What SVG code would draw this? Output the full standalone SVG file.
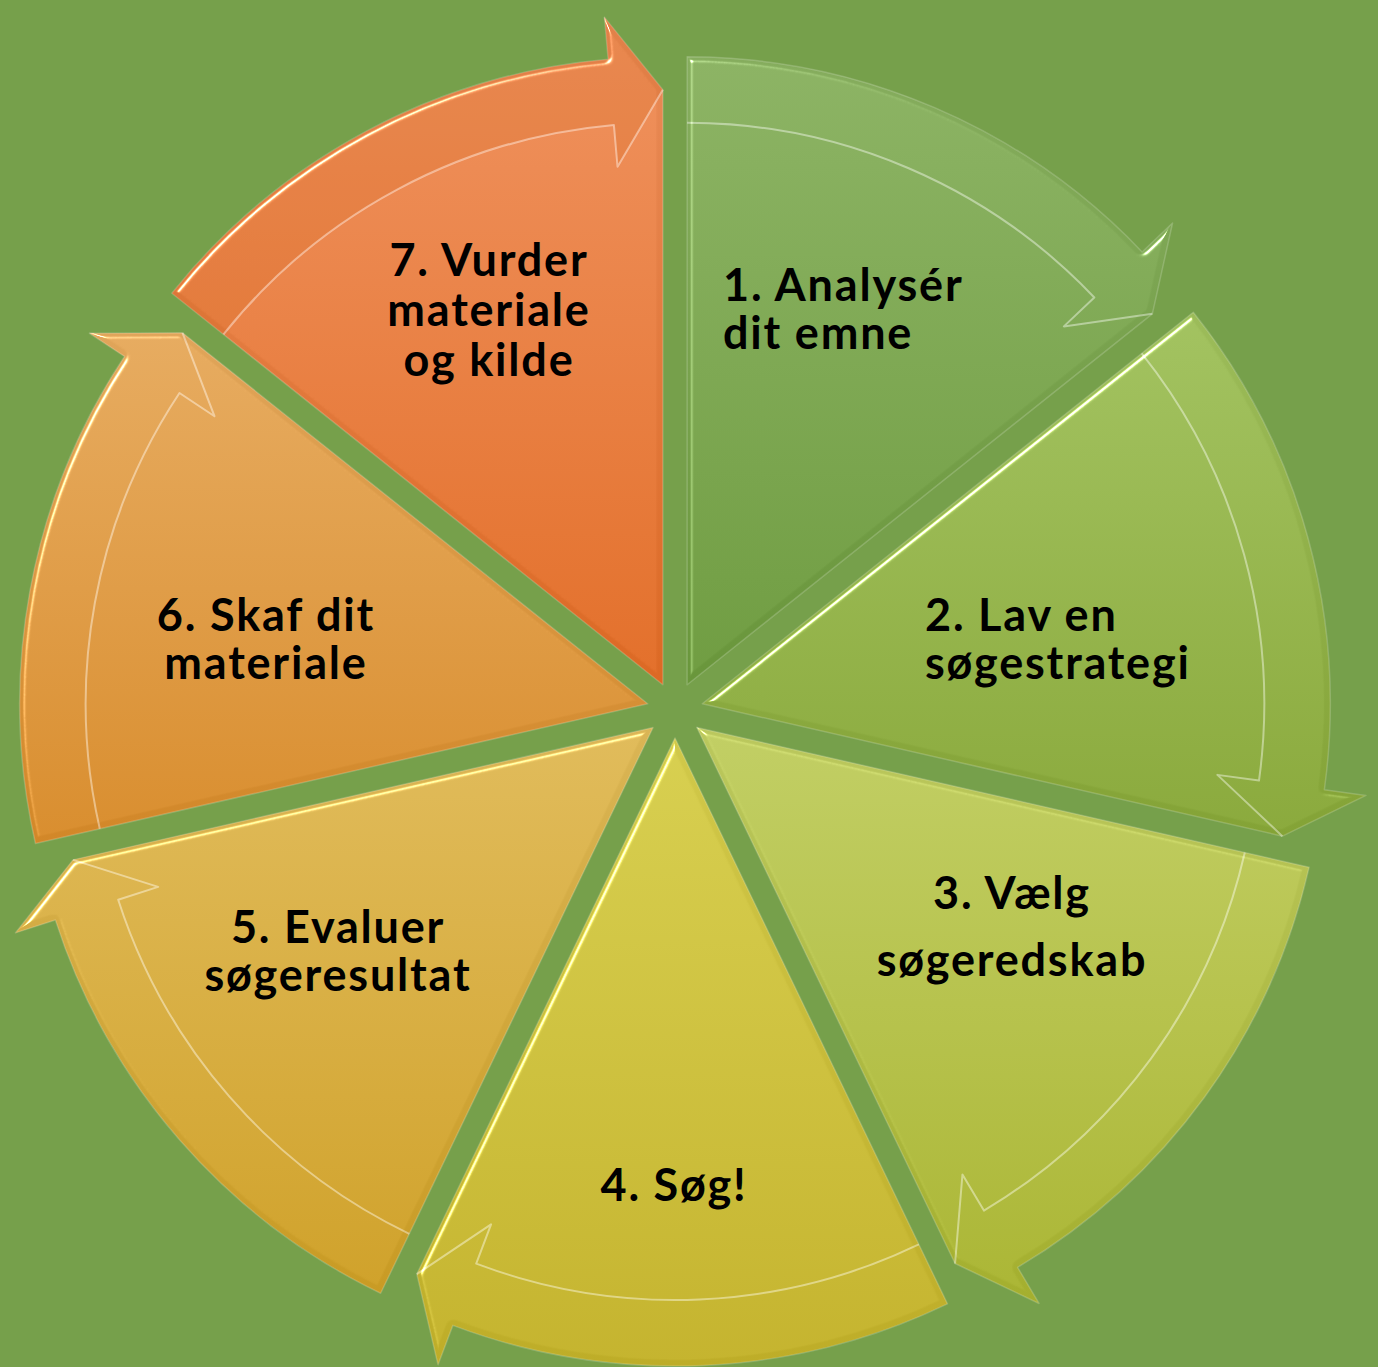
<svg xmlns="http://www.w3.org/2000/svg" xmlns:xlink="http://www.w3.org/1999/xlink" width="1378" height="1367" viewBox="0 0 1378 1367">
  <style>
    .lbl { font-family: Lato, "Open Sans", "Liberation Sans", sans-serif; font-weight: 700; font-size: 45px; letter-spacing: 1.8px; fill: #000; }
    .shape { stroke: #ffffff; stroke-opacity: 0.18; stroke-width: 1.5; stroke-linejoin: round; }
    .edge { fill: none; stroke: #ffffff; stroke-opacity: 0.4; stroke-width: 2; stroke-linejoin: round; }
  </style>
  <defs>
    <filter id="bevel" x="-5%" y="-5%" width="110%" height="110%" color-interpolation-filters="sRGB">
      <feGaussianBlur in="SourceAlpha" stdDeviation="2.5" result="blur"/>
      <feSpecularLighting in="blur" surfaceScale="5" specularConstant="0.9" specularExponent="35" lighting-color="#ffffff" result="spec">
        <feDistantLight azimuth="225" elevation="40"/>
      </feSpecularLighting>
      <feComposite in="spec" in2="SourceAlpha" operator="in" result="specIn"/>
      <feComposite in="SourceGraphic" in2="specIn" operator="arithmetic" k1="0" k2="1" k3="1" k4="0"/>
    </filter>
    <!-- base segment (sector 0..51.43 deg, clockwise from top), origin = diagram centre -->
    <path id="seg" d="M 12.15,-25.23 L 12.15,-653.23 A 628 628 0 0 1 467.14,-458.05 L 497.57,-486.99 L 477.34,-396.21 Z"/>
    <path id="band" d="M 12.15,-587.23 L 12.15,-653.23 A 628 628 0 0 1 467.14,-458.05 L 497.57,-486.99 L 477.34,-396.21 L 388.89,-383.61 L 419.32,-412.56 A 562 562 0 0 0 12.15,-587.23 Z"/>
    <path id="inner" d="M 12.15,-587.23 A 562 562 0 0 1 419.32,-412.56 L 388.89,-383.61 L 477.34,-396.21"/>
    <linearGradient id="g1" gradientUnits="userSpaceOnUse" x1="0" y1="-653" x2="0" y2="-25">
      <stop offset="0" stop-color="#86ad5e"/><stop offset="1" stop-color="#69963b"/>
    </linearGradient>
    <linearGradient id="g2" gradientUnits="userSpaceOnUse" x1="0" y1="-398" x2="0" y2="126" gradientTransform="rotate(-51.4286)">
      <stop offset="0" stop-color="#9cbc5a"/><stop offset="1" stop-color="#84a336"/>
    </linearGradient>
    <linearGradient id="g3" gradientUnits="userSpaceOnUse" x1="0" y1="17" x2="0" y2="594" gradientTransform="rotate(-102.857)">
      <stop offset="0" stop-color="#bbc85e"/><stop offset="1" stop-color="#a4af2e"/>
    </linearGradient>
    <linearGradient id="g4" gradientUnits="userSpaceOnUse" x1="0" y1="28" x2="0" y2="656" gradientTransform="rotate(-154.286)">
      <stop offset="0" stop-color="#d1c94a"/><stop offset="1" stop-color="#bead28"/>
    </linearGradient>
    <linearGradient id="g5" gradientUnits="userSpaceOnUse" x1="0" y1="17" x2="0" y2="583" gradientTransform="rotate(-205.714)">
      <stop offset="0" stop-color="#dab555"/><stop offset="1" stop-color="#c99b24"/>
    </linearGradient>
    <linearGradient id="g6" gradientUnits="userSpaceOnUse" x1="0" y1="-377" x2="0" y2="134" gradientTransform="rotate(-257.143)">
      <stop offset="0" stop-color="#e0a55a"/><stop offset="1" stop-color="#d28728"/>
    </linearGradient>
    <linearGradient id="g7" gradientUnits="userSpaceOnUse" x1="0" y1="-693" x2="0" y2="-25" gradientTransform="rotate(-308.571)">
      <stop offset="0" stop-color="#e98c59"/><stop offset="1" stop-color="#dc6924"/>
    </linearGradient>
  </defs>

  <rect width="1378" height="1367" fill="#76a04b"/>

  <g id="node1">
    <g filter="url(#bevel)">
      <g transform="translate(675,710)">
        <use xlink:href="#seg" href="#seg" class="shape" fill="url(#g1)"/>
        <use xlink:href="#inner" href="#inner" class="edge"/>
      </g>
    </g>
    <text class="lbl" x="723" y="301">1. Analysér<tspan x="723" y="349">dit emne</tspan></text>
  </g>

  <g id="node2">
    <g filter="url(#bevel)">
      <g transform="translate(675,710) rotate(51.4286)">
        <use xlink:href="#seg" href="#seg" class="shape" fill="url(#g2)"/>
        <use xlink:href="#inner" href="#inner" class="edge"/>
      </g>
    </g>
    <text class="lbl" x="925" y="631">2. Lav en<tspan x="925" y="679">søgestrategi</tspan></text>
  </g>

  <g id="node3">
    <g filter="url(#bevel)">
      <g transform="translate(675,710) rotate(102.857)">
        <use xlink:href="#seg" href="#seg" class="shape" fill="url(#g3)"/>
        <use xlink:href="#inner" href="#inner" class="edge"/>
      </g>
    </g>
    <text class="lbl" x="1012" y="909" text-anchor="middle">3. Vælg<tspan x="1012" y="976">søgeredskab</tspan></text>
  </g>

  <g id="node4">
    <g filter="url(#bevel)">
      <g transform="translate(675,710) rotate(154.286)">
        <use xlink:href="#seg" href="#seg" class="shape" fill="url(#g4)"/>
        <use xlink:href="#inner" href="#inner" class="edge"/>
      </g>
    </g>
    <text class="lbl" x="674" y="1201" text-anchor="middle">4. Søg!</text>
  </g>

  <g id="node5">
    <g filter="url(#bevel)">
      <g transform="translate(675,710) rotate(205.714)">
        <use xlink:href="#seg" href="#seg" class="shape" fill="url(#g5)"/>
        <use xlink:href="#inner" href="#inner" class="edge"/>
      </g>
    </g>
    <text class="lbl" x="338" y="943" text-anchor="middle">5. Evaluer<tspan x="338" y="991">søgeresultat</tspan></text>
  </g>

  <g id="node6">
    <g filter="url(#bevel)">
      <g transform="translate(675,710) rotate(257.143)">
        <use xlink:href="#seg" href="#seg" class="shape" fill="url(#g6)"/>
        <use xlink:href="#inner" href="#inner" class="edge"/>
      </g>
    </g>
    <text class="lbl" x="266" y="631" text-anchor="middle">6. Skaf dit<tspan x="266" y="679">materiale</tspan></text>
  </g>

  <g id="node7">
    <g filter="url(#bevel)">
      <g transform="translate(675,710) rotate(308.571)">
        <use xlink:href="#seg" href="#seg" class="shape" fill="url(#g7)"/>
        <use xlink:href="#band" href="#band" fill="#c85a10" fill-opacity="0.2"/>
        <use xlink:href="#inner" href="#inner" class="edge"/>
      </g>
    </g>
    <text class="lbl" x="489" y="276" text-anchor="middle">7. Vurder<tspan x="489" y="326">materiale</tspan><tspan x="489" y="376">og kilde</tspan></text>
  </g>

  <g id="connectors"></g>
</svg>
